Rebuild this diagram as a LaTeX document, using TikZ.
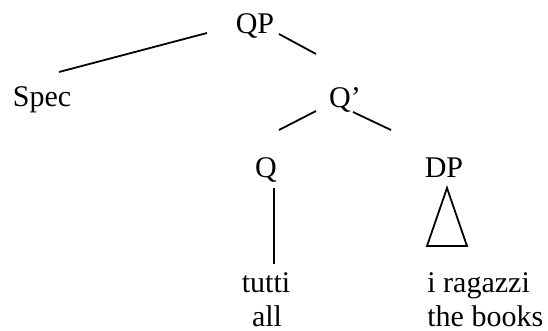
\documentclass[tikz,border=0pt]{standalone}
\usepackage{fontspec}
\setmainfont{Liberation Serif}
\usepackage{tikz}

\begin{document}
\begin{tikzpicture}[x=0.5pt,y=-0.5pt,
    lbl/.style={inner sep=0pt,font=\fontsize{15}{17}\selectfont},
    branch/.style={line width=0.9pt}]
                    \useasboundingbox (0,0) rectangle (548,331);
                    % labels
                    \node [lbl,anchor=base] (qp) at (255,34) {QP};
                    \node [lbl,anchor=base] (spec) at (42,107) {Spec};
                    \node [lbl,anchor=base] (qbar) at (345,108) {Q’};
                    \node [lbl,anchor=base] (q) at (266,178) {Q};
                    \node [lbl,anchor=base] (dp) at (444,178) {DP};
                    \node [lbl,anchor=base] (tutti) at (266,293) {tutti};
                    \node [lbl,anchor=base] (all) at (267,327) {all};
                    \node [lbl,anchor=base west] (ragazzi) at (427,293) {i ragazzi};
                    \node [lbl,anchor=base west] (books) at (427,327) {the books};
                    % branches
                    \draw [branch] ([shift={(-48,-1)}]qp.base) -- ([shift={(17,-35)}]spec.base);
                    \draw [branch] ([shift={(24,0)}]qp.base) -- ([shift={(-29,-54)}]qbar.base);
                    \draw [branch] ([shift={(-29,3)}]qbar.base) -- ([shift={(13,-48)}]q.base);
                    \draw [branch] ([shift={(8,4)}]qbar.base) -- ([shift={(-53,-48)}]dp.base);
                    \draw [branch] ([shift={(8,10)}]q.base) -- ([shift={(8,-29)}]tutti.base);
                    \draw [branch,line join=miter] ([shift={(3,10)}]dp.base)
                    -- ([shift={(-17,68)}]dp.base)
                    -- ([shift={(23,68)}]dp.base) -- cycle;
                \end{tikzpicture}
\end{document}
